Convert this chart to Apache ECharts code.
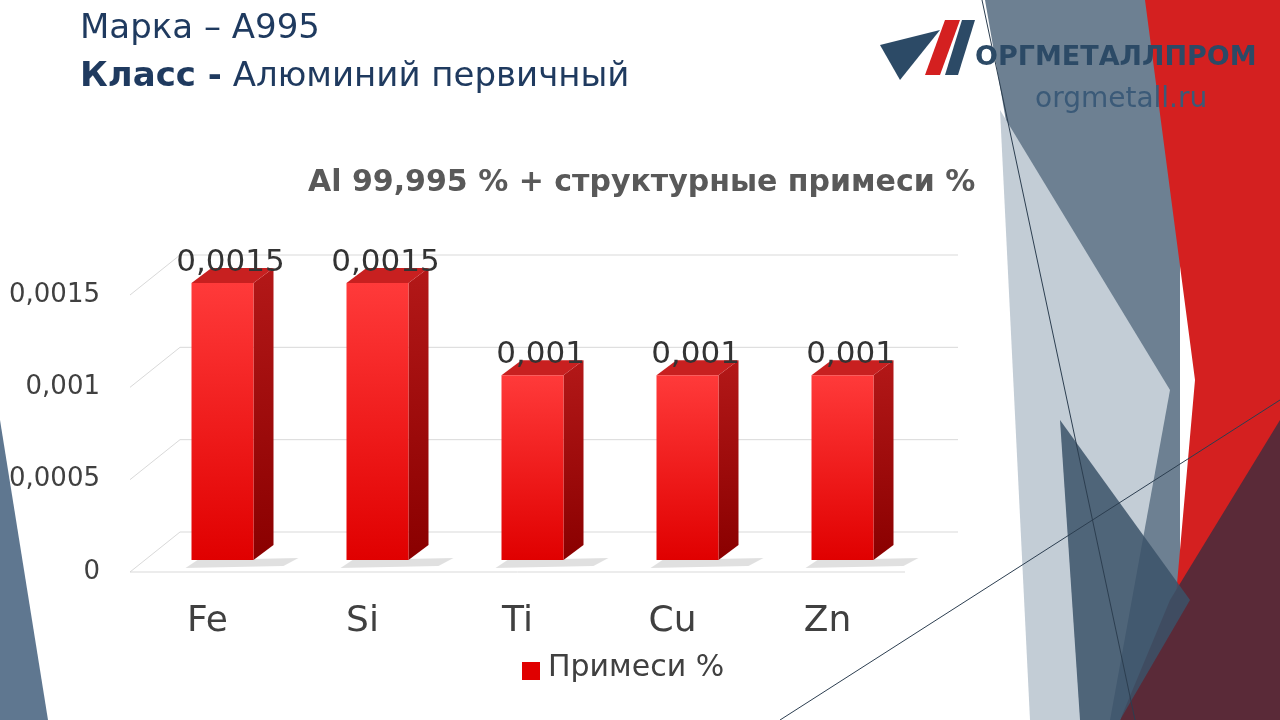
<!DOCTYPE html>
<html><head><meta charset="utf-8">
<script src="https://cdn.jsdelivr.net/npm/echarts@6/dist/echarts.min.js"></script>
<style>html,body{margin:0;padding:0;background:#fff}#c{width:1280px;height:720px}</style>
</head><body><div id="c"></div>
<script>
const categories = ['Fe','Si','Ti','Cu','Zn'];
const values = [0.0015,0.0015,0.001,0.001,0.001];
const valueLabels = ['0,0015','0,0015','0,001','0,001','0,001'];
const tickValues = [0,0.0005,0.001,0.0015];
const tickLabels = ['0','0,0005','0,001','0,0015'];

const chart = echarts.init(document.getElementById('c'));
const F = 'DejaVu Sans';
chart.setOption({
  animation:false,
  backgroundColor:'#fff',
  graphic:[
    {type:'polygon',shape:{points:[[0,420],[48,720],[0,720]]},style:{fill:'#5f7790'},z:-10},
    {type:'polygon',shape:{points:[[985,0],[1180,0],[1180,720],[1110,720]]},style:{fill:'#6d8092'},z:-10},
    {type:'polygon',shape:{points:[[1000,110],[1170,390],[1110,720],[1030,720]]},style:{fill:'#c3cdd6'},z:-9},
    {type:'polygon',shape:{points:[[1145,0],[1280,0],[1280,720],[1165,720],[1195,380]]},style:{fill:'#d42020'},z:-9},
    {type:'polygon',shape:{points:[[1170,600],[1280,420],[1280,720],[1120,720]]},style:{fill:'#5a2a38'},z:-8},
    {type:'polygon',shape:{points:[[1060,420],[1190,600],[1120,720],[1080,720]]},style:{fill:'#3b5268',opacity:0.85},z:-8},
    {type:'line',shape:{x1:982,y1:0,x2:1135,y2:720},style:{stroke:'#2c3e50',lineWidth:1},z:-7},
    {type:'line',shape:{x1:780,y1:720,x2:1280,y2:400},style:{stroke:'#2c3e50',lineWidth:1},z:-7},
    {type:'text',left:80,top:12,style:{text:'Марка – А995',font:'34px '+F,fill:'#1f3a5f'}},
    {type:'text',left:80,top:60,style:{text:'{b|Класс -} Алюминий первичный',rich:{b:{font:'bold 34px '+F,fill:'#1f3a5f'}},font:'34px '+F,fill:'#1f3a5f'}},
    {type:'polygon',shape:{points:[[880,45],[940,30],[900,80]]},style:{fill:'#2c4a66'}},
    {type:'polygon',shape:{points:[[925,75],[945,20],[960,20],[940,75]]},style:{fill:'#d42020'}},
    {type:'polygon',shape:{points:[[945,75],[962,20],[975,20],[958,75]]},style:{fill:'#2c4a66'}},
    {type:'text',left:975,top:44,style:{text:'ОРГМЕТАЛЛПРОМ',font:'bold 27px '+F,fill:'#2c4a66'}},
    {type:'text',left:1035,top:86,style:{text:'orgmetall.ru',font:'28px '+F,fill:'#3b5a78'}},
    {type:'text',left:308,top:168,style:{text:'Al 99,995 % + структурные примеси %',font:'bold 30px '+F,fill:'#595959'}},
    {type:'line',shape:{x1:130,y1:572,x2:905,y2:572},style:{stroke:'#d9d9d9',lineWidth:1}},
    {type:'rect',left:522,top:662,shape:{width:18,height:18},style:{fill:'#e00000'}},
    {type:'text',left:548,top:653,style:{text:'Примеси %',font:'30px '+F,fill:'#404040'}}
  ],
  grid:{left:130,right:375,top:295,bottom:148},
  xAxis:{type:'category',data:categories,axisLine:{show:false},axisTick:{show:false},
    axisLabel:{fontSize:36,color:'#404040',fontFamily:F,margin:32}},
  yAxis:{type:'value',min:0,max:0.0015,interval:0.0005,splitLine:{show:false},axisLine:{show:false},axisTick:{show:false},
    axisLabel:{fontSize:26,color:'#404040',fontFamily:F,margin:30,formatter:v=>tickLabels[tickValues.findIndex(t=>Math.abs(t-v)<1e-9)]}},
  series:[
    {type:'custom',data:tickValues,silent:true,z:1,
      renderItem:(p,api)=>{const y=api.coord([0,api.value(0)])[1];
        return {type:'polyline',shape:{points:[[130,y],[180,y-40],[958,y-40]]},style:{stroke:'#d9d9d9',lineWidth:1,fill:null}};},
      encode:{y:0}, coordinateSystem:'cartesian2d', xAxisIndex:0},
    {type:'custom',data:values.map((v,i)=>[i,v]),z:3,
      renderItem:(p,api)=>{
        const c=api.coord([api.value(0),api.value(1)]);const b=api.coord([api.value(0),0]);
        const w=62,dx=20,dy=15,x0=c[0]-16,x1=x0+w,yt=c[1]-12,yb=b[1]-12;
        return {type:'group',children:[
          {type:'polygon',shape:{points:[[x0+6,yb],[x1+dx+25,yb-2],[x1+dx+10,yb+6],[x0-6,yb+8]]},style:{fill:'rgba(0,0,0,0.12)'}},
          {type:'polygon',shape:{points:[[x1,yt],[x1+dx,yt-dy],[x1+dx,yb-dy],[x1,yb]]},style:{fill:new echarts.graphic.LinearGradient(0,0,0,1,[{offset:0,color:'#b31818'},{offset:1,color:'#8a0000'}])}},
          {type:'polygon',shape:{points:[[x0,yt],[x0+dx,yt-dy],[x1+dx,yt-dy],[x1,yt]]},style:{fill:'#c82020'}},
          {type:'rect',shape:{x:x0,y:yt,width:w,height:yb-yt},style:{fill:new echarts.graphic.LinearGradient(0,0,0,1,[{offset:0,color:'#ff3a3a'},{offset:1,color:'#e00000'}])}},
          {type:'text',style:{text:valueLabels[p.dataIndex],x:x0+w/2+8,y:yt-5,align:'center',verticalAlign:'bottom',font:'31px '+F,fill:'#333'}}
        ]};
      }}
  ]
});
</script></body></html>
